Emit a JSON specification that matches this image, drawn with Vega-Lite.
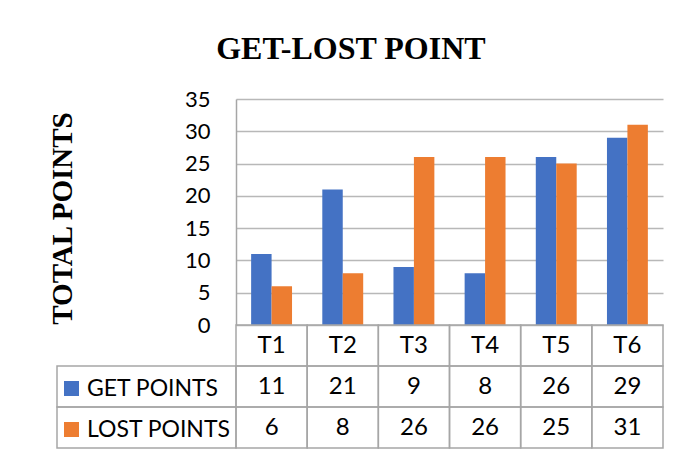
{
  "$schema": "https://vega.github.io/schema/vega-lite/v6.json",
  "padding": {"left": 48, "top": 33, "right": 10, "bottom": 5},
  "background": "#ffffff",
  "title": {"text": "GET-LOST POINT", "font": "Liberation Serif", "fontSize": 32, "fontWeight": "bold", "color": "#000000", "anchor": "middle", "dx": -5, "offset": 22},
  "config": {"view": {"stroke": null}, "font": "Lato"},
  "datasets": {
    "scores": [
      {"team": "T1", "series": "GET POINTS", "value": 11},
      {"team": "T1", "series": "LOST POINTS", "value": 6},
      {"team": "T2", "series": "GET POINTS", "value": 21},
      {"team": "T2", "series": "LOST POINTS", "value": 8},
      {"team": "T3", "series": "GET POINTS", "value": 9},
      {"team": "T3", "series": "LOST POINTS", "value": 26},
      {"team": "T4", "series": "GET POINTS", "value": 8},
      {"team": "T4", "series": "LOST POINTS", "value": 26},
      {"team": "T5", "series": "GET POINTS", "value": 26},
      {"team": "T5", "series": "LOST POINTS", "value": 25},
      {"team": "T6", "series": "GET POINTS", "value": 29},
      {"team": "T6", "series": "LOST POINTS", "value": 31}
    ]
  },
  "columns": 2,
  "spacing": 0,
  "bounds": "flush",
  "resolve": {"scale": {"color": "independent"}, "legend": {"color": "independent"}},
  "concat": [
    {"width": 179, "height": 226, "data": {"values": []}, "mark": "point", "encoding": {}},
    {
      "width": 427,
      "height": 226,
      "data": {"name": "scores"},
      "mark": {"type": "bar"},
      "encoding": {
        "x": {"field": "team", "type": "nominal", "scale": {"paddingInner": 0, "paddingOuter": 0}, "axis": null},
        "xOffset": {"field": "series", "type": "nominal", "sort": ["GET POINTS", "LOST POINTS"], "scale": {"paddingInner": 0, "paddingOuter": 0.74}},
        "y": {
          "field": "value", "type": "quantitative",
          "scale": {"domain": [0, 35], "nice": false, "zero": true},
          "axis": {
            "values": [0, 5, 10, 15, 20, 25, 30, 35],
            "grid": true, "gridColor": "#b8b8b8", "gridWidth": 1.5,
            "domain": true, "domainColor": "#a6a6a6", "domainWidth": 1.5,
            "ticks": false, "tickSize": 0,
            "labelFont": "Lato", "labelFontSize": 22, "labelColor": "#000000", "labelPadding": 26,
            "title": "TOTAL POINTS", "titleFont": "Liberation Serif", "titleFontSize": 29, "titleFontWeight": "bold", "titleColor": "#000000",
            "titleX": -174, "titleY": 119, "titleAngle": -90, "titleAlign": "center", "titleBaseline": "middle"
          }
        },
        "color": {
          "field": "series", "type": "nominal",
          "scale": {"domain": ["GET POINTS", "LOST POINTS"], "range": ["#4472C4", "#ED7D31"]},
          "legend": {
            "orient": "none", "legendX": -176, "legendY": 278, "title": null, "direction": "vertical",
            "symbolType": "square", "symbolSize": 225, "symbolStrokeWidth": 0,
            "labelFont": "Lato", "labelFontSize": 23, "labelColor": "#000000", "labelOffset": 4,
            "rowPadding": 17, "padding": 0
          }
        }
      }
    },
    {
      "width": 179,
      "height": 123,
      "data": {"name": "scores"},
      "transform": [{"filter": "datum.team === 'T1'"}],
      "mark": {"type": "rect", "filled": false, "stroke": "#a6a6a6", "strokeWidth": 1.5},
      "encoding": {
        "y": {"field": "series", "type": "nominal", "scale": {"domain": ["TEAM", "GET POINTS", "LOST POINTS"], "paddingInner": 0, "paddingOuter": 0}, "axis": null}
      }
    },
    {
      "width": 427,
      "height": 123,
      "data": {"name": "scores"},
      "encoding": {
        "x": {"field": "team", "type": "nominal", "scale": {"paddingInner": 0, "paddingOuter": 0}, "axis": null}
      },
      "layer": [
        {
          "transform": [{"filter": "datum.series === 'GET POINTS'"}],
          "mark": {"type": "rect", "filled": false, "stroke": "#a6a6a6", "strokeWidth": 1.5},
          "encoding": {
            "y": {"datum": "TEAM", "type": "nominal", "scale": {"domain": ["TEAM", "GET POINTS", "LOST POINTS"], "paddingInner": 0, "paddingOuter": 0}, "axis": null}
          }
        },
        {
          "mark": {"type": "rect", "filled": false, "stroke": "#a6a6a6", "strokeWidth": 1.5},
          "encoding": {
            "y": {"field": "series", "type": "nominal", "axis": null}
          }
        },
        {
          "transform": [{"filter": "datum.series === 'GET POINTS'"}],
          "mark": {"type": "text", "font": "Lato", "fontSize": 24, "color": "#000000"},
          "encoding": {
            "y": {"datum": "TEAM", "type": "nominal", "axis": null},
            "text": {"field": "team"}
          }
        },
        {
          "mark": {"type": "text", "font": "Lato", "fontSize": 24, "color": "#000000"},
          "encoding": {
            "y": {"field": "series", "type": "nominal", "axis": null},
            "text": {"field": "value", "type": "quantitative"}
          }
        }
      ]
    }
  ]
}
